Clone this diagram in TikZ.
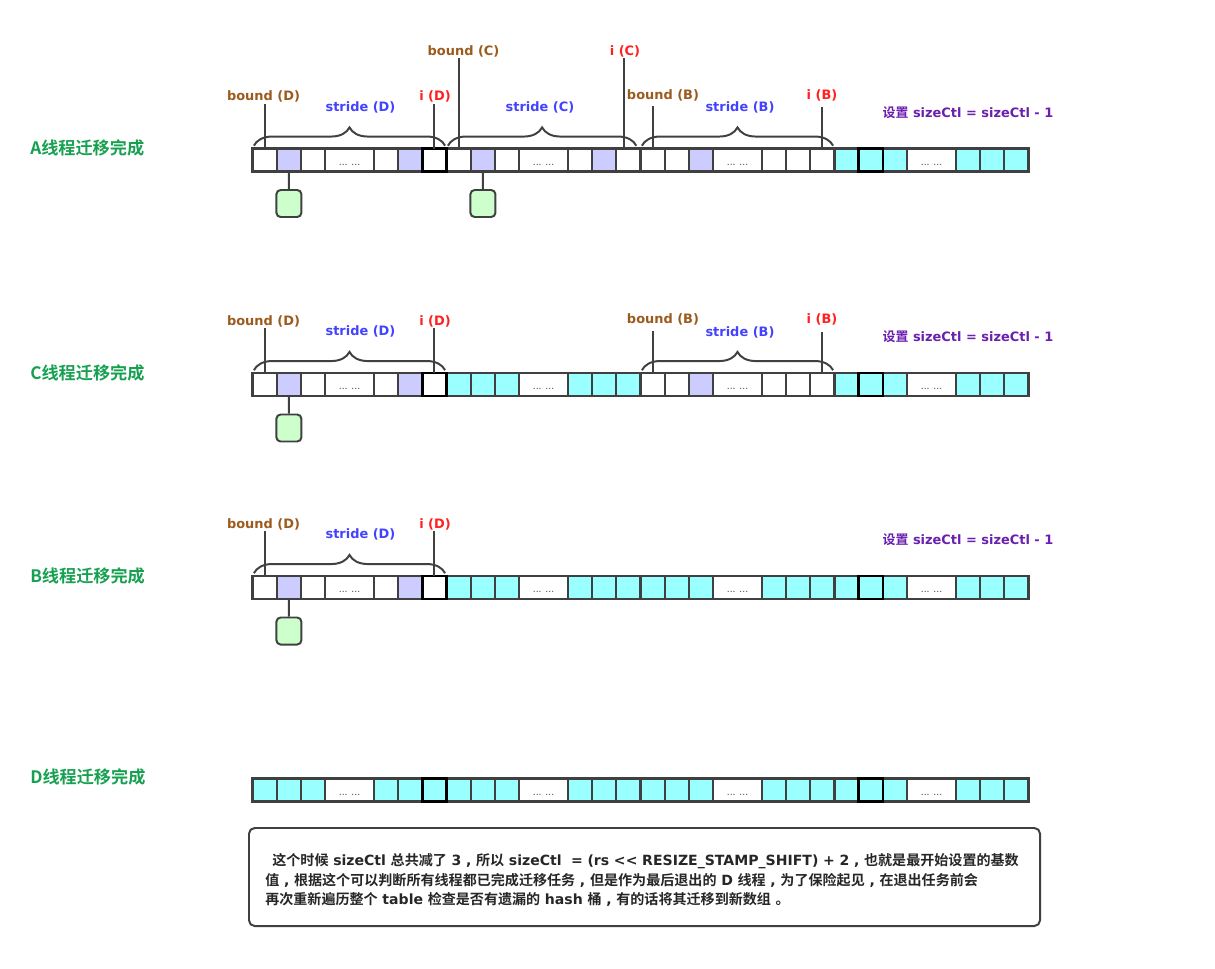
\documentclass[tikz,border=0pt]{standalone}
\usepackage{fontspec}
\setmainfont{DejaVu Sans}
\newfontfamily\cjk{Noto Sans CJK SC}[BoldFont = {Noto Sans CJK SC Bold}]
\usepackage{xcolor}
\usetikzlibrary{calc}
\usetikzlibrary{decorations.pathreplacing}
\definecolor{BoundBrown}{HTML}{9C5A1C}
\definecolor{StrideBlue}{HTML}{4343FF}
\definecolor{IndexRed}{HTML}{FF2020}
\definecolor{SetPurple}{HTML}{6A1FAE}
\definecolor{DoneGreen}{HTML}{16A050}
\definecolor{CellCyan}{HTML}{99FFFF}
\definecolor{CellLav}{HTML}{CCCCFF}
\definecolor{LeafGreen}{HTML}{CCFFCC}
\definecolor{EdgeGray}{HTML}{404040}

\tikzset{
  cell/.style = {draw = EdgeGray, line width = 1.5pt, minimum width = .60625cm,
    minimum height = .575cm, inner sep = 0pt, outer sep = 0pt},
  cw/.style = {fill = white},
  cl/.style = {fill = CellLav},
  cc/.style = {fill = CellCyan},
  cd/.style = {fill = white, minimum width = 1.2125cm,
    label = {[dots]center:... ...}},
  dots/.style = {font = \fontsize{6.5}{6.5}\selectfont, text = EdgeGray, yshift = -3.5pt},
  thick cell/.style = {draw = black, line width = 1.8pt},
  tag/.style = {font = \fontsize{9.2}{11}\selectfont\bfseries, inner sep = 1pt},
  bound/.style = {tag, text = BoundBrown},
  stride/.style = {tag, text = StrideBlue},
  index/.style = {tag, text = IndexRed},
  setnote/.style = {tag, text = SetPurple},
  rowlbl/.style = {font = \cjk\bfseries\fontsize{12.2}{14}\selectfont, text = DoneGreen,
    anchor = west, inner sep = 0pt},
  pin/.style = {draw = EdgeGray, line width = 1.4pt},
  span/.style = {draw = EdgeGray, line width = 1.4pt, decorate,
    decoration = {brace, amplitude = 13pt}},
  leaf/.style = {draw = EdgeGray, fill = LeafGreen, line width = 1.4pt, rounded corners = 3pt,
    minimum width = .625cm, minimum height = .675cm, inner sep = 0pt}
}

% one row of the table: name, y, fills of the 28 cells
\newcommand\cellrow[3]{%
  \foreach \f [count = \i] in {#3} {
    \pgfmathtruncatemacro\g{(\i-1)/7}
    \pgfmathtruncatemacro\j{mod(\i-1,7)}
    \pgfmathsetmacro\cx{252.5 + 24.25*(8*\g + \j + (\j>3) + 0.5 + 0.5*(\j==3))}
    \node[cell, c\f] (#1\i) at (\cx, #2) {};
  }
  \foreach \k in {7, 23}
    \draw[thick cell] (#1\k.north west) rectangle (#1\k.south east);
}

\begin{document}
\begin{tikzpicture}[x = .025cm, y = -.025cm]
  \useasboundingbox (0,0) rectangle (1215,968);

  % the four tables
  \cellrow{A}{160}{w,l,w,d,w,l,w,w,l,w,d,w,l,w,w,w,l,d,w,w,w,c,c,c,d,c,c,c}
  \cellrow{C}{384.5}{w,l,w,d,w,l,w,c,c,c,d,c,c,c,w,w,l,d,w,w,w,c,c,c,d,c,c,c}
  \cellrow{B}{587.5}{w,l,w,d,w,l,w,c,c,c,d,c,c,c,c,c,c,d,c,c,c,c,c,c,d,c,c,c}
  \cellrow{D}{790}{c,c,c,d,c,c,c,c,c,c,d,c,c,c,c,c,c,d,c,c,c,c,c,c,d,c,c,c}

  \node[rowlbl] (Alabel) at (30,148) {A线程迁移完成};
  \node[rowlbl] (Clabel) at (30,373) {C线程迁移完成};
  \node[rowlbl] (Blabel) at (30,576) {B线程迁移完成};
  \node[rowlbl] (Dlabel) at (30,777) {D线程迁移完成};

  % stride of thread D, left in rows A, C and B
  \foreach \r/\y in {A/0, C/224.5, B/427.5} {
    \node[bound] (\r bD) at (263.5, {96.5+\y}) {bound (D)};
    \node[stride] (\r sD) at (360.5, {107+\y}) {stride (D)};
    \node[index] (\r iD) at (435, {96.5+\y}) {i (D)};
    \draw[span] ([xshift = 1pt, yshift = 2pt]\r1.north west)
      -- ([xshift = -1pt, yshift = 2pt]\r7.north east);
    \draw[pin] (\r1.north) -- (\r1.north |- \r bD.south);
    \draw[pin] (\r7.north) -- (\r7.north |- \r iD.south);
    \node[setnote] (\r set) at (968, {112.5+\y}) {{\cjk\bfseries 设置} sizeCtl = sizeCtl - 1};
    \node[leaf] (\r leaf) at (288.9, {203.5+\y}) {};
    \draw[pin] (\r2) -- (\r leaf);
  }

  % stride of thread B, rows A and C
  \foreach \r/\y in {A/0, C/224.5} {
    \node[bound] (\r bB) at (663, {95+\y}) {bound (B)};
    \node[stride] (\r sB) at (740, {107.5+\y}) {stride (B)};
    \node[index] (\r iB) at (822, {95+\y}) {i (B)};
    \draw[span] ([xshift = 1pt, yshift = 2pt]\r15.north west)
      -- ([xshift = -1pt, yshift = 2pt]\r21.north east);
    \draw[pin] (\r15.north) -- ($(\r15.north |- \r bB.south) + (0,4)$);
    \draw[pin] (\r21.north) -- ($(\r21.north |- \r iB.south) + (0,5)$);
  }

  % stride of thread C, row A only
  \node[bound] (AbC) at (463.5, 51) {bound (C)};
  \node[stride] (AsC) at (540, 107) {stride (C)};
  \node[index] (AiC) at (625, 51) {i (C)};
  \draw[span] ([xshift = 1pt, yshift = 2pt]A8.north west)
    -- ([xshift = -3pt, yshift = 2pt]A14.north east);
  \draw[pin] (A8.north) -- (A8.north |- AbC.south);
  \draw[pin] ([xshift = -3pt]A14.north) -- ([xshift = -3pt]A14.north |- AiC.south);
  \node[leaf] (Aleaf2) at (482.9, 203.5) {};
  \draw[pin] (A9) -- (Aleaf2);

  % closing note
  \draw[draw = EdgeGray, line width = 1.4pt, rounded corners = 4pt]
    (249,828) rectangle (1040,926);
  \node[text width = 19cm, inner sep = 0pt, anchor = west, align = left, text = black!85,
    font = \fontsize{10}{14}\selectfont\bfseries] (note) at (265, 880)
    {\hspace{.5em}{\cjk 这个时候} sizeCtl {\cjk 总共减了} 3 , {\cjk 所以} sizeCtl \ = (rs <\kern0pt< RESIZE\_STAMP\_SHIFT) + 2 , {\cjk 也就是最开始设置的基数}\\
     {\cjk 值} , {\cjk 根据这个可以判断所有线程都已完成迁移任务} , {\cjk 但是作为最后退出的} D {\cjk 线程} , {\cjk 为了保险起见} , {\cjk 在退出任务前会}\\
     {\cjk 再次重新遍历整个} table {\cjk 检查是否有遗漏的} hash {\cjk 桶} , {\cjk 有的话将其迁移到新数组} {\cjk 。}};
\end{tikzpicture}
\end{document}
